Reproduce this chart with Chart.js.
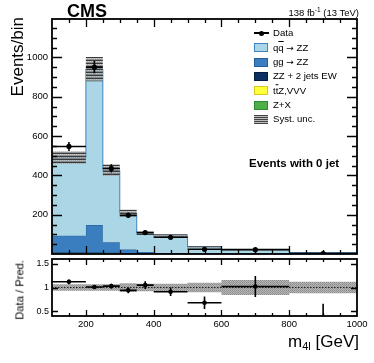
<!DOCTYPE html>
<html>
<head>
<meta charset="utf-8">
<script src="https://cdn.jsdelivr.net/npm/chart.js@4.4.1/dist/chart.umd.min.js"></script>
<style>
    html, body { margin: 0; padding: 0; background: #fff; }
    #wrap { position: relative; width: 374px; height: 363px; overflow: hidden;
            font-family: 'Liberation Sans', Arial, Helvetica, sans-serif; color: #000; }
    canvas { position: absolute; left: 0; top: 0; }
    .lbl { position: absolute; white-space: nowrap; line-height: 1; transform: translateY(-50%); }
    .rot { position: absolute; left: 0; top: 0; white-space: nowrap; line-height: 1; transform-origin: 0 0; }
    .ov { text-decoration: overline; }
    .arr { font-family: 'DejaVu Sans', sans-serif; font-size: 9px; }
    .box { position: absolute; width: 14px; height: 9px; box-sizing: border-box; border: 1px solid; }
    .leg { position: absolute; left: 273px; font-size: 9.6px; white-space: nowrap; line-height: 1; transform: translateY(-50%); }
</style>
</head>
<body>
<div id="wrap">
    <canvas id="mainChart" width="374" height="363"></canvas>
    <canvas id="ratioChart" width="374" height="363"></canvas>

    <div class="lbl" style="left:67px; top:11px; font-size:18px; font-weight:bold;">CMS</div>
    <div class="lbl" style="right:15px; top:12px; font-size:9.5px;">138 fb<sup style="font-size:6.5px; vertical-align:4px;">-1</sup> (13 TeV)</div>

    <div style="position:absolute; left:254px; top:32px; width:15px; height:1.5px; background:#000;"></div>
    <div style="position:absolute; left:259px; top:30.5px; width:5px; height:5px; border-radius:50%; background:#000;"></div>
    <div class="leg" style="top:33px;">Data</div>
    <div class="box" style="left:254px; top:43px; background:#aad6e6; border-color:#3d83c4;"></div>
    <div class="leg" style="top:47.5px;">q<span class="ov">q</span> <span class="arr">→</span> ZZ</div>
    <div class="box" style="left:254px; top:57.5px; background:#3a7ebf; border-color:#245f9c;"></div>
    <div class="leg" style="top:62px;">gg <span class="arr">→</span> ZZ</div>
    <div class="box" style="left:254px; top:71.5px; background:#0c2f63; border-color:#061d40;"></div>
    <div class="leg" style="top:76px;">ZZ + 2 jets EW</div>
    <div class="box" style="left:254px; top:86px; background:#ffff3a; border-color:#d8c820;"></div>
    <div class="leg" style="top:90.5px;">t<span class="ov">t</span>Z,VVV</div>
    <div class="box" style="left:254px; top:100.5px; background:#4caf4a; border-color:#2e8a2e;"></div>
    <div class="leg" style="top:105px;">Z+X</div>
    <div class="box" style="left:254px; top:115px; border:none; background:repeating-linear-gradient(#444 0 1px, #bbb 1px 2px);"></div>
    <div class="leg" style="top:119px;">Syst. unc.</div>

    <div class="lbl" style="left:249px; top:164px; font-size:11.5px; font-weight:bold;">Events with 0 jet</div>

    <div class="rot" style="font-size:17px; transform: translate(17.5px, 17px) rotate(-90deg) translate(-100%, -50%);">Events/bin</div>
    <div class="rot" style="font-size:11.2px; transform: translate(20px, 260px) rotate(-90deg) translate(-100%, -50%);">Data / Pred.</div>
    <div class="lbl" style="right:15px; top:342px; font-size:17px;">m<sub style="font-size:11px; vertical-align:-3px;">4l</sub> [GeV]</div>
</div>

<script>
// bins of m4l
const binEdges = [100, 200, 250, 300, 350, 400, 500, 600, 800, 1000];

// stacked predictions (events/bin)
const qqZZ   = [397, 793, 366, 185, 94, 88, 33, 20, 6];
const ggZZ   = [86, 139, 53, 18, 8, 3.5, 1.5, 1.2, 0.5];
const ewZZjj = [0.5, 1, 1, 1, 0.5, 0.5, 0.3, 0.3, 0.2];
const ttzVVV = [0.5, 1, 1.5, 1.5, 1, 1, 0.5, 0.5, 0.3];
const zPlusX = [6, 6, 4, 2, 1, 0.5, 0.2, 0.1, 0.05];
const systUnc = [32, 62, 29, 17, 8.5, 7.5, 3.6, 3.5, 0.9];

// observed data
const dataVal = [547, 950, 435, 197, 109, 85, 24, 22, 2];
const dataErr = [23, 31, 21, 14, 10.5, 9, 5, 4.7, 1.8];

// ratio panel
const ratioVal = [1.12, 1.01, 1.03, 0.94, 1.05, 0.91, 0.68, 1.02, 0.29];
const ratioErr = [0.05, 0.03, 0.05, 0.06, 0.08, 0.09, 0.13, 0.22, 0.37];
const ratioUnc = [0.07, 0.07, 0.07, 0.09, 0.08, 0.08, 0.1, 0.16, 0.12];

// tick labels
const xTicks = [200, 400, 600, 800, 1000];
const mainYTicks = [200, 400, 600, 800, 1000];
const ratioYTicks = [0.5, 1, 1.5];

const FONT = 'Liberation Sans';

function toSteps(values) {
    return binEdges.map((x, i) => ({ x: x, y: values[Math.min(i, values.length - 1)] }));
}

function binCenters() {
    return binEdges.slice(0, -1).map((x, i) => (x + binEdges[i + 1]) / 2);
}

// error bars as broken line segments
function errorSegments(vals, errs) {
    const pts = [];
    const centers = binCenters();
    vals.forEach((v, i) => {
        pts.push({ x: binEdges[i], y: v }, { x: binEdges[i + 1], y: v }, { x: binEdges[i + 1], y: null });
        pts.push({ x: centers[i], y: v - errs[i] }, { x: centers[i], y: v + errs[i] }, { x: centers[i], y: null });
    });
    return pts;
}

function makePattern(rows) {
    const c = document.createElement('canvas');
    c.width = rows[0].length;
    c.height = rows.length;
    const g = c.getContext('2d');
    rows.forEach((row, j) => row.forEach((col, i) => {
        g.fillStyle = col;
        g.fillRect(i, j, 1, 1);
    }));
    return g.createPattern(c, 'repeat');
}

function isMajor(v, major) {
    const r = v / major;
    return Math.abs(r - Math.round(r)) < 1e-6;
}

// ROOT-style frame with inward ticks on all four sides
const rootFrame = {
    id: 'rootFrame',
    afterDraw(chart, args, o) {
        const { ctx, chartArea: a } = chart;
        const x = chart.scales.x, y = chart.scales.y;
        ctx.save();
        ctx.strokeStyle = '#000';
        ctx.lineWidth = 1.3;
        ctx.beginPath();
        for (let k = 0; ; k++) {
            const v = o.xStart + k * o.xMinor;
            if (v > x.max + 1e-9) break;
            if (v <= x.min + 1e-9 || v >= x.max - 1e-9) continue;
            const px = Math.round(x.getPixelForValue(v)) + 0.5;
            const len = isMajor(v, o.xMajor) ? o.xLen : o.xLen / 2;
            ctx.moveTo(px, a.bottom); ctx.lineTo(px, a.bottom - len);
            ctx.moveTo(px, a.top); ctx.lineTo(px, a.top + len);
        }
        for (let k = 0; ; k++) {
            const v = o.yStart + k * o.yMinor;
            if (v > y.max + 1e-9) break;
            if (v <= y.min + 1e-9 || v >= y.max - 1e-9) continue;
            const py = Math.round(y.getPixelForValue(v)) + 0.5;
            const len = isMajor(v, o.yMajor) ? o.yLen : o.yLen / 2;
            ctx.moveTo(a.left, py); ctx.lineTo(a.left + len, py);
            ctx.moveTo(a.right, py); ctx.lineTo(a.right - len, py);
        }
        ctx.stroke();
        ctx.lineWidth = 1.8;
        ctx.strokeRect(a.left, a.top, a.right - a.left, a.bottom - a.top);
        ctx.restore();
    }
};

function fixedTicks(values) {
    return scale => { scale.ticks = values.map(v => ({ value: v })); };
}

// cumulative stack, bottom to top
const layers = [zPlusX, ttzVVV, ewZZjj, ggZZ, qqZZ];
const cumulative = [];
layers.forEach((arr, k) => {
    cumulative.push(arr.map((v, i) => v + (k > 0 ? cumulative[k - 1][i] : 0)));
});
const total = cumulative[cumulative.length - 1];

const systPattern = makePattern([
    ['#3a3a3a', '#3a3a3a', '#3a3a3a', '#3a3a3a'],
    ['rgba(190,190,190,0.75)', 'rgba(150,150,150,0.75)', 'rgba(190,190,190,0.75)', 'rgba(150,150,150,0.75)'],
    ['rgba(120,120,120,0.8)', 'rgba(120,120,120,0.8)', 'rgba(120,120,120,0.8)', 'rgba(120,120,120,0.8)']
]);
const ratioPattern = makePattern([
    ['#8c8c8c', '#b4b4b4'],
    ['#b4b4b4', '#9a9a9a']
]);

function stepLine(values, fill, bg, border, order) {
    return {
        data: toSteps(values),
        stepped: true,
        fill: fill,
        backgroundColor: bg,
        borderColor: border,
        borderWidth: 1,
        pointRadius: 0,
        order: order
    };
}

const mainDatasets = [
    { // 0 data error bars
        data: errorSegments(dataVal, dataErr),
        borderColor: '#000', borderWidth: 1.6, pointRadius: 0, spanGaps: false, fill: false, order: 0
    },
    { // 1 data markers
        data: binCenters().map((x, i) => ({ x: x, y: dataVal[i] })),
        showLine: false, pointRadius: 2.6, pointBackgroundColor: '#000', pointBorderWidth: 0, order: 0
    },
    stepLine(cumulative[0], 'origin', '#4caf4a', '#2e8a2e', 7),   // 2 Z+X
    stepLine(cumulative[1], '-1', '#ffff3a', '#d8c820', 6),       // 3 ttZ,VVV
    stepLine(cumulative[2], '-1', '#0c2f63', '#0c2f63', 5),       // 4 EW
    stepLine(cumulative[3], '-1', '#3a7ebf', '#245f9c', 4),       // 5 gg
    stepLine(cumulative[4], '-1', '#aad6e6', '#3d83c4', 3),       // 6 qq
    stepLine(total.map((v, i) => v - systUnc[i]), false, 'transparent', 'transparent', 2),   // 7
    stepLine(total.map((v, i) => v + systUnc[i]), '-1', systPattern, 'transparent', 2)       // 8
];

new Chart(document.getElementById('mainChart'), {
    type: 'line',
    data: { datasets: mainDatasets },
    options: {
        responsive: false,
        animation: false,
        events: [],
        layout: { padding: { top: 19, bottom: 109, left: 0, right: 17 } },
        plugins: {
            legend: { display: false },
            tooltip: { enabled: false },
            rootFrame: { xStart: 100, xMinor: 50, xMajor: 200, xLen: 8,
                         yStart: 0, yMinor: 50, yMajor: 200, yLen: 10 }
        },
        scales: {
            x: { type: 'linear', min: 100, max: 1000, display: false },
            y: {
                type: 'linear', min: 0, max: 1195,
                afterBuildTicks: fixedTicks(mainYTicks),
                afterFit: s => { s.width = 52; },
                grid: { display: false, drawTicks: false },
                border: { display: false },
                ticks: { padding: 4, color: '#000', font: { family: FONT, size: 9.5 }, callback: v => String(v) }
            }
        }
    },
    plugins: [rootFrame]
});

const ratioDatasets = [
    { // 0 error bars
        data: errorSegments(ratioVal, ratioErr),
        borderColor: '#000', borderWidth: 1.6, pointRadius: 0, spanGaps: false, fill: false, order: 0
    },
    { // 1 markers
        data: binCenters().map((x, i) => ({ x: x, y: ratioVal[i] })),
        showLine: false, pointRadius: 2.3, pointBackgroundColor: '#000', pointBorderWidth: 0, order: 0
    },
    { // 2 unity line
        data: [{ x: 100, y: 1 }, { x: 1000, y: 1 }],
        borderColor: '#222', borderWidth: 1, borderDash: [1.5, 1.5], pointRadius: 0, fill: false, order: 1
    },
    stepLine(ratioUnc.map(u => 1 - u), false, 'transparent', 'transparent', 2),   // 3
    stepLine(ratioUnc.map(u => 1 + u), '-1', ratioPattern, 'transparent', 2)      // 4
];

new Chart(document.getElementById('ratioChart'), {
    type: 'line',
    data: { datasets: ratioDatasets },
    options: {
        responsive: false,
        animation: false,
        events: [],
        layout: { padding: { top: 259, bottom: 27, left: 0, right: 17 } },
        plugins: {
            legend: { display: false },
            tooltip: { enabled: false },
            rootFrame: { xStart: 100, xMinor: 50, xMajor: 200, xLen: 6,
                         yStart: 0.5, yMinor: 0.5, yMajor: 0.5, yLen: 6 }
        },
        scales: {
            x: {
                type: 'linear', min: 100, max: 1000,
                afterBuildTicks: fixedTicks(xTicks),
                afterFit: s => { s.height = 20; },
                grid: { display: false, drawTicks: false },
                border: { display: false },
                ticks: { padding: 3, autoSkip: false, maxRotation: 0, color: '#000',
                         font: { family: FONT, size: 9.5 }, callback: v => String(v) }
            },
            y: {
                type: 'linear', min: 0.4, max: 1.6,
                afterBuildTicks: fixedTicks(ratioYTicks),
                afterFit: s => { s.width = 52; },
                grid: { display: false, drawTicks: false },
                border: { display: false },
                ticks: { padding: 3, color: '#000', font: { family: FONT, size: 9 }, callback: v => String(v) }
            }
        }
    },
    plugins: [rootFrame]
});
</script>
</body>
</html>
